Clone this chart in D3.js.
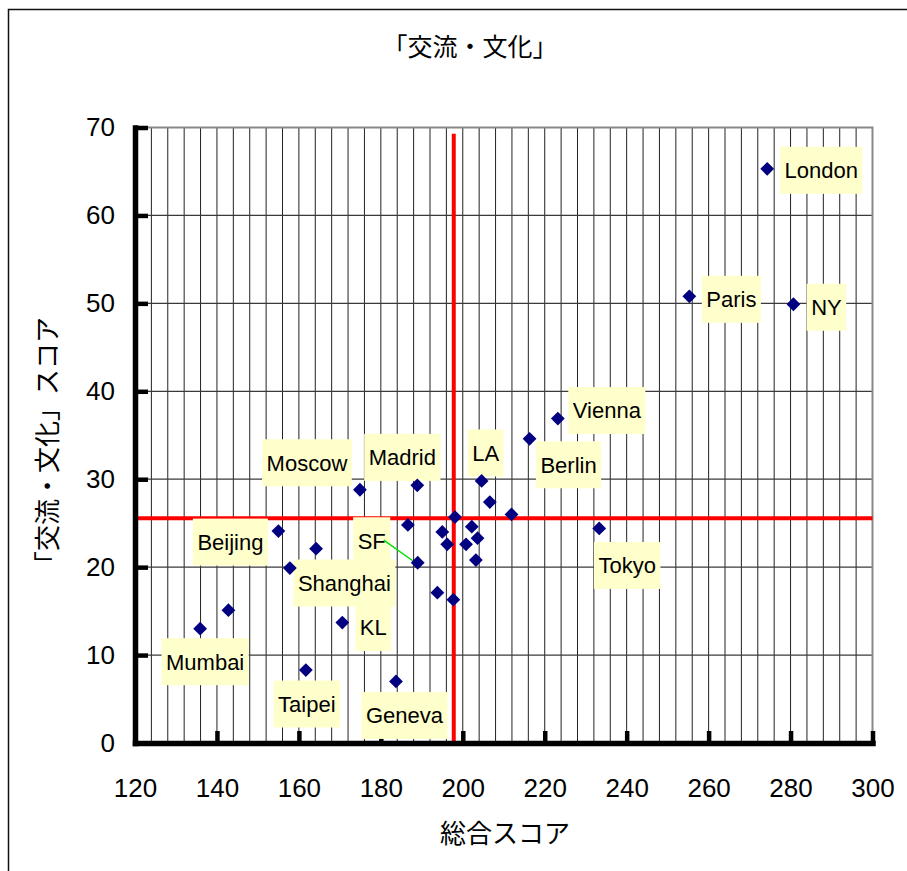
<!DOCTYPE html>
<html>
<head>
<meta charset="utf-8">
<script src="https://cdn.jsdelivr.net/npm/d3@7"></script>
<style>
  body { margin: 0; background: #fff; }
</style>
</head>
<body>
<svg id="chart" width="907" height="871"></svg>
<script>
// City names (blank = plotted without a label)
const cities = [
  "London", "Paris", "NY", "Vienna", "Berlin", "Tokyo", "Madrid", "Moscow",
  "LA", "SF", "Beijing", "Shanghai", "KL", "Mumbai", "Taipei", "Geneva",
  "", "", "", "", "", "", "", "", "", "", "", "", "", ""
];
// 総合スコア
const totalScore = [
  274.3, 255.3, 280.7, 223.2, 216.3, 233.3, 188.9, 174.9,
  204.6, 189.0, 155.0, 157.8, 170.6, 135.9, 161.7, 183.7,
  142.8, 164.2, 206.6, 211.9, 198.1, 186.6, 195.0, 202.2,
  196.2, 200.8, 203.6, 203.2, 193.8, 197.7
];
// 「交流・文化」スコア
const cultureScore = [
  65.3, 50.8, 49.9, 36.9, 34.6, 24.4, 29.3, 28.8,
  29.8, 20.5, 24.1, 19.9, 13.7, 13.0, 8.3, 7.0,
  15.1, 22.1, 27.4, 26.0, 25.7, 24.8, 24.0, 24.6,
  22.6, 22.6, 23.3, 20.8, 17.1, 16.3
];

// Average reference lines
const avgTotal = 197.8;
const avgCulture = 25.55;
const avgTotalLineTop = 69.3;

const xTicks = [120, 140, 160, 180, 200, 220, 240, 260, 280, 300];
const yTicks = [0, 10, 20, 30, 40, 50, 60, 70];

const titleText = "「交流・文化」";
const xTitleText = "総合スコア";
const yTitleText = "「交流・文化」スコア";

// Label box centre relative to its point (px)
const labelOffset = {
  London: [54, 1.5], Paris: [42, 3], NY: [33, 3], Vienna: [49, -8],
  Berlin: [39, 26], Tokyo: [28, 37], Madrid: [-15, -28], Moscow: [-53, -27],
  LA: [4, -28], SF: [-46, -22], Beijing: [-48, 11], Shanghai: [54.5, 15],
  KL: [31, 5], Mumbai: [5, 33], Taipei: [1, 34], Geneva: [8.5, 34]
};
// Leader line from label to point (px, relative to point)
const leaderLines = { SF: [[-34, -22.7], [-5, -2]] };

const data = cities.map((c, i) => ({ name: c, x: totalScore[i], y: cultureScore[i] }));

const svg = d3.select("#chart");
const latin = "'Liberation Sans', Arial, sans-serif";
const cjk = "'Noto Sans CJK JP', sans-serif";

svg.append("rect").attr("width", 907).attr("height", 871).attr("fill", "#fff");
// outer chart frame
svg.append("rect")
  .attr("x", 8.5).attr("y", 9.5).attr("width", 910).attr("height", 870)
  .attr("fill", "none").attr("stroke", "#111").attr("stroke-width", 1.5);

const x = d3.scaleLinear().domain([120, 300]).range([135, 872.5]);
const y = d3.scaleLinear().domain([0, 70]).range([743, 127.5]);

// grid
const grid = svg.append("g");
grid.selectAll("line.v")
  .data(d3.range(124, 300, 4))
  .join("line")
  .attr("x1", d => x(d)).attr("x2", d => x(d))
  .attr("y1", y(0)).attr("y2", y(70))
  .attr("stroke", "#222").attr("stroke-width", 1);
grid.selectAll("line.h")
  .data(yTicks.filter(v => v > 0 && v < 70))
  .join("line")
  .attr("x1", x(120)).attr("x2", x(300))
  .attr("y1", d => y(d)).attr("y2", d => y(d))
  .attr("stroke", "#3a3a3a").attr("stroke-width", 1.2);
// plot border (top/right)
grid.append("path")
  .attr("d", `M${x(120)},${y(70)}H${x(300)}V${y(0)}`)
  .attr("fill", "none").attr("stroke", "#888").attr("stroke-width", 2);

// red average lines
svg.append("line")
  .attr("x1", x(120)).attr("x2", x(300))
  .attr("y1", y(avgCulture)).attr("y2", y(avgCulture))
  .attr("stroke", "#ff0000").attr("stroke-width", 4);
svg.append("line")
  .attr("x1", x(avgTotal)).attr("x2", x(avgTotal))
  .attr("y1", y(0)).attr("y2", y(avgTotalLineTop))
  .attr("stroke", "#ff0000").attr("stroke-width", 4);

// axes
const xAxis = d3.axisBottom(x).tickValues(xTicks).tickSize(-12).tickSizeOuter(0).tickPadding(35.5);
const yAxis = d3.axisLeft(y).tickValues(yTicks).tickSize(-13).tickSizeOuter(0).tickPadding(20);

const gx = svg.append("g").attr("transform", `translate(0,${y(0)})`).call(xAxis);
const gy = svg.append("g").attr("transform", `translate(${x(120)},0)`).call(yAxis);
[gx, gy].forEach(g => {
  g.select(".domain").attr("stroke", "#000").attr("stroke-width", 5.5).attr("stroke-linecap", "square");
  g.selectAll(".tick line").attr("stroke", "#000").attr("stroke-width", 4.5);
  g.selectAll(".tick text").attr("fill", "#000")
    .style("font-family", latin).style("font-size", "26px");
});

// labels
const labelSize = 22;
const labels = svg.append("g");
data.filter(d => d.name).forEach(d => {
  const [dx, dy] = labelOffset[d.name];
  const cx = x(d.x) + dx, cy = y(d.y) + dy;
  const g = labels.append("g");
  const rect = g.append("rect").attr("fill", "#ffffcc");
  const t = g.append("text")
    .attr("x", cx).attr("y", cy + labelSize * 0.358)
    .attr("text-anchor", "middle")
    .style("font-family", latin).style("font-size", labelSize + "px")
    .attr("fill", "#000").text(d.name);
  const w = t.node().getComputedTextLength() + 9;
  rect.attr("x", cx - w / 2).attr("y", cy - 23.5).attr("width", w).attr("height", 47);
  const ll = leaderLines[d.name];
  if (ll) {
    svg.append("line")
      .attr("x1", x(d.x) + ll[0][0]).attr("y1", y(d.y) + ll[0][1])
      .attr("x2", x(d.x) + ll[1][0]).attr("y2", y(d.y) + ll[1][1])
      .attr("stroke", "#00e000").attr("stroke-width", 1.5);
  }
});

// points
svg.append("g").selectAll("path")
  .data(data)
  .join("path")
  .attr("d", d3.symbol(d3.symbolSquare, 95))
  .attr("transform", d => `translate(${x(d.x)},${y(d.y)}) rotate(45)`)
  .attr("fill", "#000080");

// titles
svg.append("text")
  .attr("x", 470).attr("y", 45).attr("text-anchor", "middle")
  .attr("dominant-baseline", "central")
  .style("font-family", cjk).style("font-size", "25px")
  .text(titleText);
svg.append("text")
  .attr("x", 505).attr("y", 831).attr("text-anchor", "middle")
  .attr("dominant-baseline", "central")
  .style("font-family", cjk).style("font-size", "26px")
  .text(xTitleText);
svg.append("text")
  .attr("transform", "translate(45,447) rotate(-90)")
  .attr("text-anchor", "middle")
  .attr("dominant-baseline", "central")
  .style("font-family", cjk).style("font-size", "26px")
  .text(yTitleText);
</script>
</body>
</html>
